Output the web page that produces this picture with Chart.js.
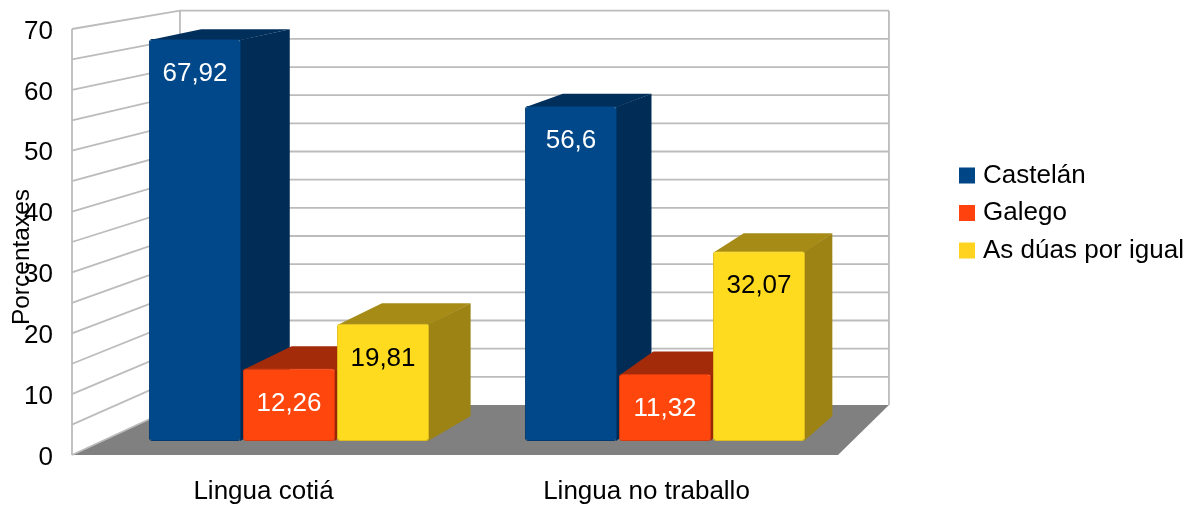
<!DOCTYPE html>
<html>
<head>
<meta charset="utf-8">
<style>html,body{margin:0;padding:0;background:#fff}canvas{display:block}</style>
<script src="https://cdn.jsdelivr.net/npm/chart.js@4"></script>
</head>
<body>
<canvas id="c" width="1187" height="505"></canvas>
<script>
const categories = ["Lingua cotiá", "Lingua no traballo"];
const castelan = [67.92, 56.6];
const galego = [12.26, 11.32];
const duasPorIgual = [19.81, 32.07];
const seriesNames = ["Castelán", "Galego", "As dúas por igual"];
const legendColors = ["#004586", "#ff420e", "#ffd320"];
const frontColors = ["#004889", "#ff460c", "#fedb1f"];
const edgeColors = ["#003a70", "#dc390d", "#e0bd1c"];
const sideColors = ["#002c56", "#982807", "#9c8314"];
const topColors = ["#002f5c", "#a32b09", "#a68c17"];
const labelColors = ["#ffffff", "#ffffff", "#000000"];
const axisTitle = "Porcentaxes";

const FONT = "'Liberation Sans', Arial, sans-serif";
const VP = {x: 1523, y: -217};
const WALL_K = 0.9256, BAR_K = 0.962;
const proj = (x, y, k) => [VP.x + (x - VP.x) * k, VP.y + (y - VP.y) * k];

function poly(ctx, pts, fill) {
  ctx.beginPath();
  pts.forEach((p, i) => i ? ctx.lineTo(p[0], p[1]) : ctx.moveTo(p[0], p[1]));
  ctx.closePath();
  ctx.fillStyle = fill;
  ctx.fill();
}

const scene = {
  id: "scene",
  beforeLayout(chart) {
    const lg = chart.legend;
    if (!lg._wideFit) {
      const fit = lg.fit;
      lg.fit = function () { fit.call(this); this.width = 349; };
      lg._wideFit = true;
    }
  },
  afterLayout(chart) {
    chart.legend.left = 952.5;
    chart.legend.top = 151;
    const s = chart.scales.y;
    s._labelItems = s._computeLabelItems(chart.chartArea);
    s._labelItems.forEach(it => { it.options.translation[1] += 2.5; });
  },
  beforeDatasetsDraw(chart) {
    const {ctx, chartArea: a, scales} = chart;
    const L = a.left, R = a.right, T = a.top, B = a.bottom;
    ctx.save();
    const bl = proj(L, B, WALL_K), br = proj(R, B, WALL_K), tl = proj(L, T, WALL_K), tr = proj(R, T, WALL_K);
    // floor
    poly(ctx, [[L, B], [R, B], br, bl], "#808080");
    // wall grid
    ctx.strokeStyle = "#bcbcbc";
    ctx.lineWidth = 1.8;
    for (let v = 0; v <= 70; v += 5) {
      const y = scales.y.getPixelForValue(v);
      const p = proj(L, y, WALL_K), q = proj(R, y, WALL_K);
      ctx.beginPath();
      ctx.moveTo(L, y); ctx.lineTo(p[0], p[1]);
      if (v > 0) ctx.lineTo(q[0], q[1]);
      ctx.stroke();
    }
    ctx.beginPath();
    ctx.moveTo(L, B); ctx.lineTo(L, T);
    ctx.moveTo(tl[0], tl[1]); ctx.lineTo(bl[0], bl[1]);
    ctx.moveTo(tr[0], tr[1]); ctx.lineTo(br[0], br[1]);
    ctx.stroke();
    // bar depth faces
    chart.data.datasets.forEach((ds, i) => {
      chart.getDatasetMeta(i).data.forEach(el => {
        const x0 = el.x - el.width / 2, x1 = el.x + el.width / 2;
        const yT = el.y, yB = el.base;
        poly(ctx, [[x0 + 1, yT + 1], [x1, yT + 1], proj(x1, yT, BAR_K), proj(x0, yT, BAR_K)], topColors[i]);
        poly(ctx, [[x1 - 1, yT + 1], proj(x1, yT, BAR_K), proj(x1, yB, BAR_K), [x1 - 1, yB]], sideColors[i]);
      });
    });
    ctx.restore();
  },
  afterDatasetsDraw(chart) {
    const {ctx} = chart;
    ctx.save();
    ctx.font = "26px " + FONT;
    ctx.textAlign = "center";
    ctx.textBaseline = "middle";
    chart.data.datasets.forEach((ds, i) => {
      chart.getDatasetMeta(i).data.forEach((el, j) => {
        ctx.fillStyle = labelColors[i];
        ctx.fillText(String(ds.data[j].y).replace(".", ","), el.x, el.y + 35);
      });
    });
    // axis title overlaps the tick labels, as in the original
    ctx.translate(22, 257);
    ctx.rotate(-Math.PI / 2);
    ctx.font = "24.5px " + FONT;
    ctx.fillStyle = "#000";
    ctx.fillText(axisTitle, 0, 0);
    ctx.restore();
  }
};

const seriesValues = [castelan, galego, duasPorIgual];
new Chart(document.getElementById("c"), {
  type: "bar",
  plugins: [scene],
  data: {
    labels: categories,
    datasets: seriesNames.map((name, i) => ({
      label: name,
      data: seriesValues[i].map((y, x) => ({x, y})),
      xAxisID: "xBar",
      yAxisID: "yBar",
      backgroundColor: frontColors[i],
      borderColor: edgeColors[i],
      borderWidth: 1,
      borderRadius: 3,
      borderSkipped: false,
      categoryPercentage: 0.75,
      barPercentage: 0.98
    }))
  },
  options: {
    responsive: false,
    animation: false,
    layout: {autoPadding: false, padding: {left: 0, right: 0, top: 29, bottom: 0}},
    scales: {
      x: {
        type: "category", position: "bottom", offset: true,
        grid: {display: false, drawTicks: false}, border: {display: false},
        ticks: {color: "#000", font: {family: FONT, size: 26}, padding: 21, maxRotation: 0, autoSkip: false},
        afterFit(s) { s.height = 50; }
      },
      y: {
        type: "linear", position: "left", min: 0, max: 70,
        grid: {display: false, drawTicks: false}, border: {display: false},
        ticks: {stepSize: 10, color: "#000", font: {family: FONT, size: 26}, padding: 19},
        afterFit(s) { s.width = 72; s.paddingTop = 0; s.paddingBottom = 0; }
      },
      // bars stand on a plane set slightly into the depth of the box
      xBar: {
        type: "linear", axis: "x", position: "bottom", display: false, offset: false, grid: {offset: false},
        min: -0.5771, max: 1.4601,
        afterBuildTicks(s) { s.ticks = [{value: 0}, {value: 1}]; }
      },
      yBar: {type: "linear", axis: "y", position: "left", display: false, min: -2.365, max: 69.6}
    },
    plugins: {
      tooltip: {enabled: false},
      legend: {
        position: "right", align: "start",
        labels: {
          color: "#000", font: {family: FONT, size: 26},
          usePointStyle: true, pointStyle: "rect",
          boxWidth: 6, boxHeight: 16, padding: 11.5,
          generateLabels: chart => chart.data.datasets.map((d, i) => ({
            text: d.label, fillStyle: legendColors[i], strokeStyle: legendColors[i],
            lineWidth: 0, pointStyle: "rect", datasetIndex: i, fontColor: "#000"
          }))
        }
      }
    }
  }
});
</script>
</body>
</html>
